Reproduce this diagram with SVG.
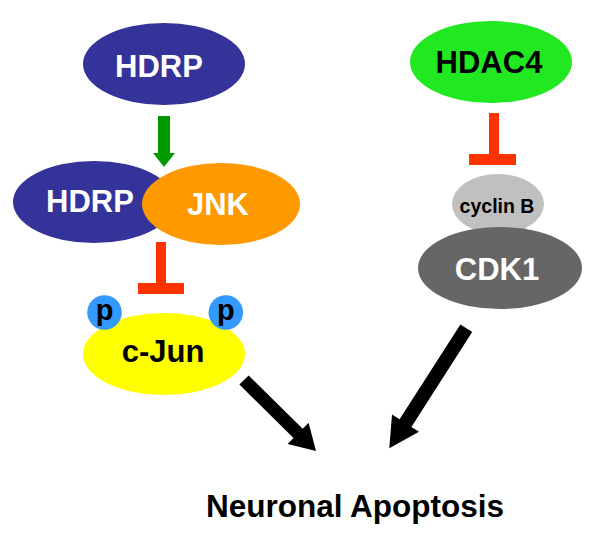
<svg xmlns="http://www.w3.org/2000/svg" width="600" height="534" viewBox="0 0 600 534">
<style>
text{font-family:"Liberation Sans",Arial,sans-serif;font-weight:bold;text-anchor:middle}
.w{fill:#ffffff;font-size:31px}
.k{fill:#000000;font-size:31px}
.blue{fill:#333399}
.inh{fill:#ff3300}
.p{font-size:29px;fill:#000000}
</style>
<rect width="600" height="534" fill="#ffffff"/>
<g id="hdrp"><ellipse class="blue" cx="164" cy="64" rx="81" ry="41"/><text class="w" x="159" y="77">HDRP</text></g>
<g id="hdrp2"><ellipse class="blue" cx="94" cy="202" rx="81" ry="41"/><text class="w" x="90" y="212">HDRP</text></g>
<g id="jnk"><ellipse fill="#ff9900" cx="221" cy="204" rx="79" ry="41"/><text class="w" x="218" y="215">JNK</text></g>
<g id="cjun"><ellipse fill="#ffff00" cx="164" cy="354" rx="81" ry="41"/><text class="k" x="163" y="362">c-Jun</text>
<circle cx="104.5" cy="312.5" r="17.3" fill="#3399ff"/><text class="p" x="104.5" y="319.5">p</text>
<circle cx="225.8" cy="312.5" r="17.3" fill="#3399ff"/><text class="p" x="225.8" y="319.5">p</text></g>
<g id="hdac4"><ellipse fill="#22e822" cx="491" cy="62" rx="81" ry="41"/><text class="k" x="489" y="73">HDAC4</text></g>
<g id="cyclinb"><ellipse fill="#c0c0c0" cx="498" cy="204" rx="46" ry="30"/><text x="497" y="213" style="font-size:19.5px" fill="#000">cyclin B</text></g>
<g id="cdk1"><ellipse fill="#666666" cx="500" cy="268" rx="82" ry="41"/><text class="w" x="497" y="280">CDK1</text></g>
<g id="apoptosis"><text class="k" x="355" y="517" style="font-size:31.5px">Neuronal Apoptosis</text></g>
<g id="connectors">
<polygon fill="#009900" points="158,116 170,116 170,153 175,153 164,167 153,153 158,153"/>
<rect class="inh" x="156" y="242" width="10" height="42"/><rect class="inh" x="138" y="283" width="46" height="11"/>
<rect class="inh" x="489" y="113" width="10" height="42"/><rect class="inh" x="469" y="154" width="47" height="11"/>
<polygon fill="#000" points="239.4,384.6 248.6,375.4 302.7,428.8 308.6,422.7 316,451 287.6,444.1 293.5,438"/>
<polygon fill="#000" points="460.4,324.5 472.2,332.1 411.4,426.9 419,431.7 389.3,448.3 392,414.5 399.6,419.3"/>
</g>
</svg>
